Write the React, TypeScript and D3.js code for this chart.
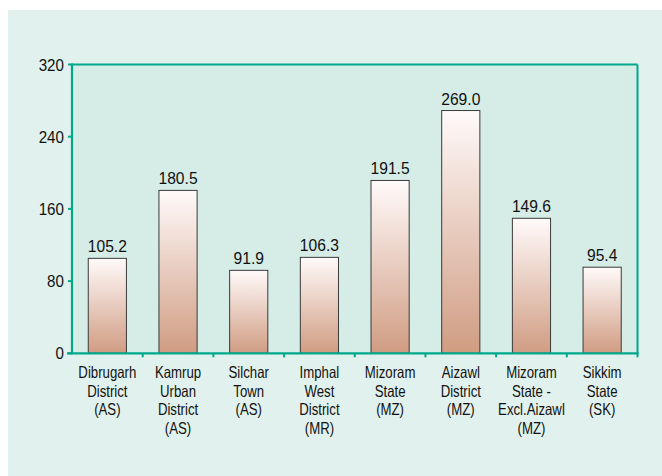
import React from "react";
import * as d3 from "d3";

const categories: string[][] = [
  ["Dibrugarh", "District", "(AS)"],
  ["Kamrup", "Urban", "District", "(AS)"],
  ["Silchar", "Town", "(AS)"],
  ["Imphal", "West", "District", "(MR)"],
  ["Mizoram", "State", "(MZ)"],
  ["Aizawl", "District", "(MZ)"],
  ["Mizoram", "State -", "Excl.Aizawl", "(MZ)"],
  ["Sikkim", "State", "(SK)"],
];
const values: number[] = [105.2, 180.5, 91.9, 106.3, 191.5, 269.0, 149.6, 95.4];
const yTicks: number[] = [0, 80, 160, 240, 320];

const W = 662;
const H = 476;
const left = 72;
const right = 637.5;
const top = 64.5;
const bottom = 353.3;
const teal = "#00a88c";
const font = "'Liberation Sans', Arial, Helvetica, sans-serif";

export default function App() {
  const ids = categories.map((_, i) => String(i));
  const x = d3.scaleBand<string>().domain(ids).range([left, right]).paddingInner(0.46).paddingOuter(0.23);
  const y = d3.scaleLinear().domain([0, 320]).range([bottom, top]);
  const boundaries = d3.range(1, categories.length + 1).map((i) => left + (right - left) * (i / categories.length));

  return (
    <svg width={W} height={H} style={{ position: "absolute", left: 0, top: 0 }}>
      <defs>
        <linearGradient id="barGrad" x1="0" y1="0" x2="0" y2="1">
          <stop offset="0%" stopColor="#fffafa" />
          <stop offset="100%" stopColor="#d09c82" />
        </linearGradient>
      </defs>
      <rect x={8} y={10} width={W - 8} height={H - 10} fill="#e1f1ed" />
      <rect x={left} y={top} width={right - left} height={bottom - top} fill="#d6ece6" />
      {values.map((v, i) => {
        const cx = (x(String(i)) as number) + x.bandwidth() / 2;
        return (
          <g key={i}>
            <rect
              x={x(String(i))}
              y={y(v)}
              width={x.bandwidth()}
              height={y(0) - y(v)}
              fill="url(#barGrad)"
              stroke="#3a3a3a"
              strokeWidth={1}
            />
            <text
              transform={`translate(${cx},${y(v) - 6}) scale(0.92,1)`}
              textAnchor="middle"
              fontFamily={font}
              fontSize={17}
              fill="#111"
            >
              {v.toFixed(1)}
            </text>
          </g>
        );
      })}
      {/* frame */}
      <line x1={left} y1={top} x2={right} y2={top} stroke={teal} strokeWidth={2} />
      <line x1={right} y1={top} x2={right} y2={bottom} stroke={teal} strokeWidth={2} />
      <line x1={left} y1={top - 1} x2={left} y2={bottom + 1} stroke={teal} strokeWidth={2.2} />
      <line x1={left - 5} y1={bottom} x2={right + 1} y2={bottom} stroke={teal} strokeWidth={2.2} />
      {yTicks.map((t) => (
        <g key={t}>
          <line x1={left - 4} x2={left} y1={y(t)} y2={y(t)} stroke={teal} strokeWidth={2} />
          <text
            transform={`translate(${left - 8},${y(t) + 6}) scale(0.92,1)`}
            textAnchor="end"
            fontFamily={font}
            fontSize={16.5}
            fill="#111"
          >
            {t}
          </text>
        </g>
      ))}
      {boundaries.map((b, i) => (
        <line key={i} x1={b} x2={b} y1={bottom} y2={bottom + 4} stroke={teal} strokeWidth={2} />
      ))}
      {categories.map((lines, i) => {
        const cx = (x(String(i)) as number) + x.bandwidth() / 2;
        return (
          <g key={i} transform={`translate(${cx},378) scale(0.8,1)`}>
            {lines.map((l, j) => (
              <text
                key={j}
                x={0}
                y={j * 18.6}
                textAnchor="middle"
                fontFamily={font}
                fontSize={16.5}
                fill="#111"
              >
                {l}
              </text>
            ))}
          </g>
        );
      })}
    </svg>
  );
}
